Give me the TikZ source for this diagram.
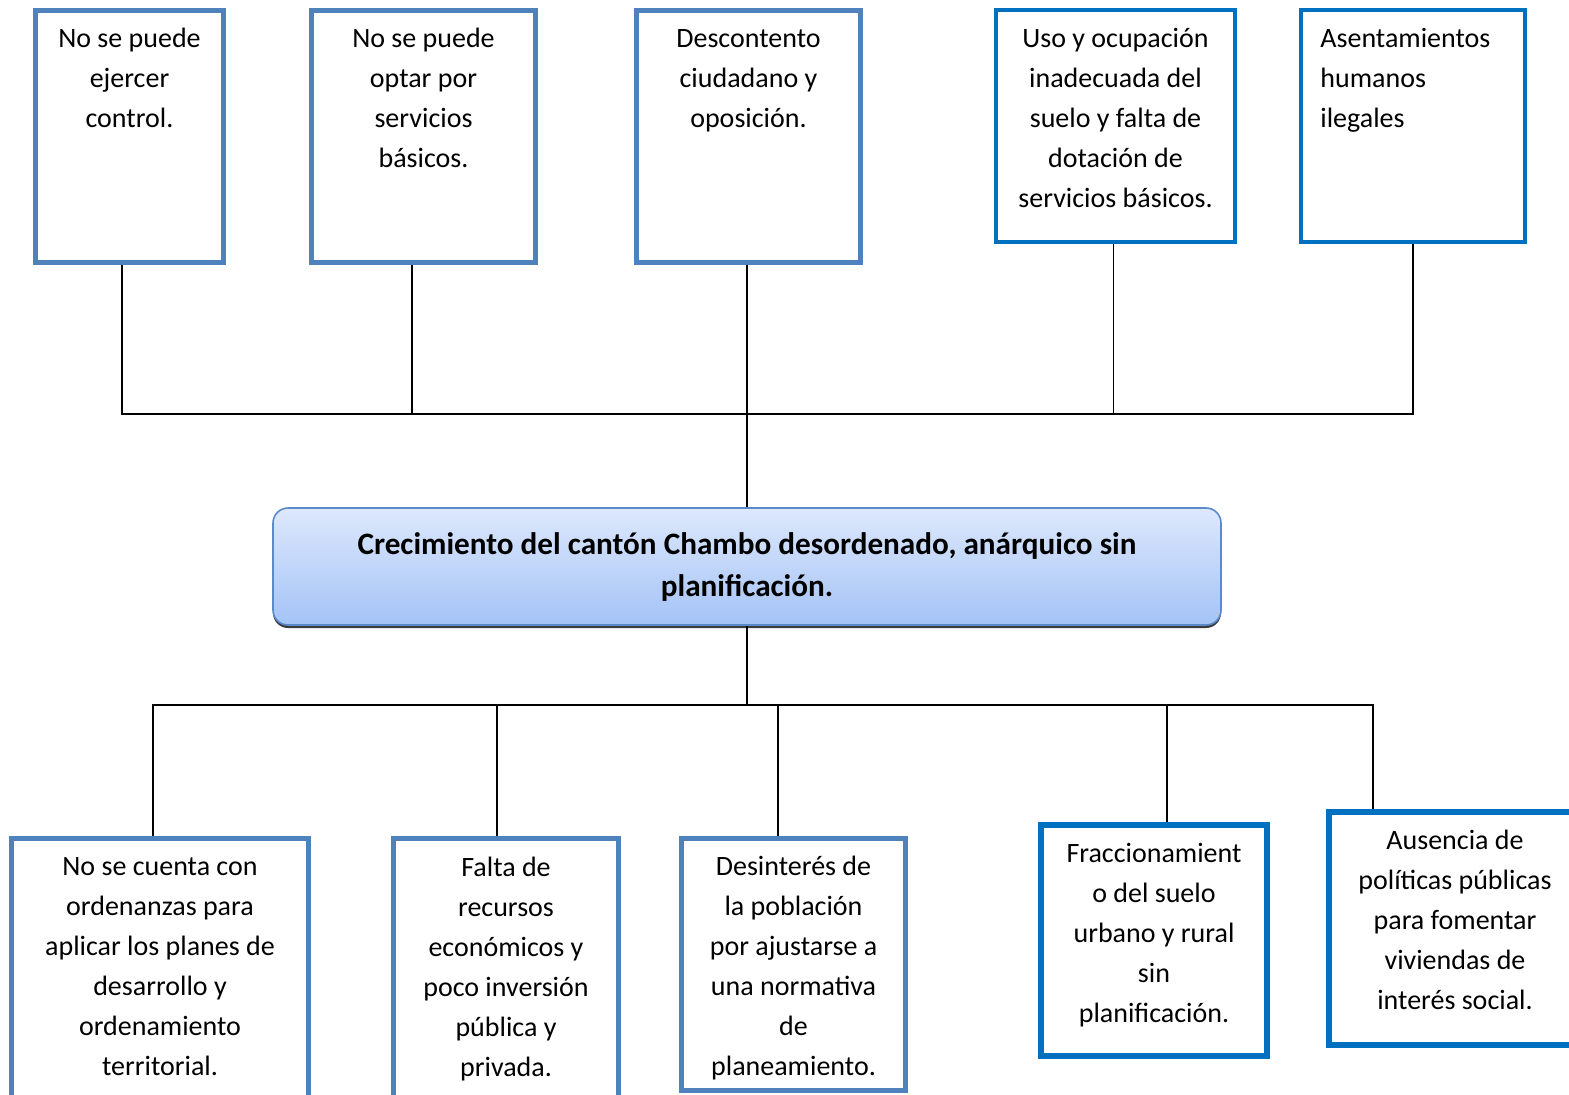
\documentclass[tikz,border=0pt]{standalone}
\usepackage{fontspec}
\setmainfont{Carlito}
\usetikzlibrary{positioning,shadows}
\definecolor{boxblue}{HTML}{4F81BD}
\definecolor{brightblue}{HTML}{0070C0}
\definecolor{coretop}{HTML}{DDE8FC}
\definecolor{corebottom}{HTML}{A4C3F6}
\definecolor{coreline}{HTML}{5B8ACB}
\tikzset{
    effect/.style = {
        draw=boxblue,
        shape=rectangle,
        line width=2.5pt,
        fill=white
    },
    effectbright/.style = {
        draw=brightblue,
        shape=rectangle,
        line width=2pt,
        fill=white
    },
    cause/.style = {
        draw=boxblue,
        shape=rectangle,
        line width=2.5pt,
        fill=white
    },
    causebright/.style = {
        draw=brightblue,
        shape=rectangle,
        line width=3pt,
        fill=white
    },
    boxtext/.style = {
        align=center,
        inner sep=0pt,
        font=\fontsize{14pt}{20pt}\selectfont
    },
    core/.style = {
        draw=coreline,
        shape=rectangle,
        rounded corners=7.5pt,
        line width=0.8pt,
        top color=coretop,
        bottom color=corebottom,
        drop shadow={shadow xshift=0pt, shadow yshift=-1.5pt, fill=black!85, opacity=0.9},
        minimum width=474pt,
        minimum height=58.5pt,
        align=center,
        font=\bfseries\fontsize{15.6pt}{21pt}\selectfont
    },
    link/.style = {
        draw,
        line width=0.7pt
    },
}

\begin{document}
\begin{tikzpicture}[x=0.5pt,y=-0.5pt]
            \useasboundingbox (0,0) rectangle (1569,1094);

            \node[effect, minimum width=94pt, minimum height=126pt] (e1) at (129.5,136.5) {};
            \node[effect, minimum width=112pt, minimum height=126pt] (e2) at (423.5,136.5) {};
            \node[effect, minimum width=112pt, minimum height=126pt] (e3) at (748.5,136.5) {};
            \node[effectbright, minimum width=119.5pt, minimum height=116pt] (e4) at (1115.5,126) {};
            \node[effectbright, minimum width=112pt, minimum height=116pt] (e5) at (1413,126) {};

            \node[boxtext, below=10pt of e1.north] (e1t) {No se puede\\ejercer\\control.};
            \node[boxtext, below=10pt of e2.north] (e2t) {No se puede\\optar por\\servicios\\básicos.};
            \node[boxtext, below=10.5pt of e3.north] (e3t) {Descontento\\ciudadano y\\oposición.};
            \node[boxtext, below=10pt of e4.north] (e4t) {Uso y ocupación\\inadecuada del\\suelo y falta de\\dotación de\\servicios básicos.};
            \node[boxtext, align=left, below right=10pt and 10.5pt of e5.north west] (e5t) {Asentamientos\\humanos\\ilegales};

            \node[core] (core) at (747,566.5) {Crecimiento del cantón Chambo desordenado, anárquico sin\\planificación.};

            \node[cause, minimum width=148.5pt, minimum height=138pt] (c1) at (160,976.75) {};
            \node[cause, minimum width=112.5pt, minimum height=138pt] (c2) at (506,976.75) {};
            \node[cause, minimum width=112pt, minimum height=126pt] (c3) at (793.5,964.5) {};
            \node[causebright, minimum width=113pt, minimum height=115.5pt] (c4) at (1154,940.5) {};
            \node[causebright, minimum width=126pt, minimum height=116.5pt] (c5) at (1455,928.5) {};

            \node[boxtext, below=10.5pt of c1.north] (c1t) {No se cuenta con\\ordenanzas para\\aplicar los planes de\\desarrollo y\\ordenamiento\\territorial.};
            \node[boxtext, below=10pt of c2.north] (c2t) {Falta de\\recursos\\económicos y\\poco inversión\\pública y\\privada.};
            \node[boxtext, below=10pt of c3.north] (c3t) {Desinterés de\\la población\\por ajustarse a\\una normativa\\de\\planeamiento.};
            \node[boxtext, below=10.5pt of c4.north] (c4t) {Fraccionamient\\o del suelo\\urbano y rural\\sin\\planificación.};
            \node[boxtext, below=10.5pt of c5.north] (c5t) {Ausencia de\\políticas públicas\\para fomentar\\viviendas de\\interés social.};

            \coordinate (topbus) at (747,414);
            \coordinate (botbus) at (747,705);

            \path[link] ([xshift=-3.75pt]e1.south) |- (topbus);
            \path[link] ([xshift=-5.75pt]e2.south) |- (topbus);
            \path[link] ([xshift=-0.75pt]e3.south) |- (topbus);
            \path[link] ([xshift=-1pt]e4.south) |- (topbus);
            \path[link] (e5.south) |- (topbus);
            \path[link] (topbus) -- (core.north);

            \path[link] (core.south) -- (botbus);
            \path[link] (botbus) -| ([xshift=-3.5pt]c1.north);
            \path[link] (botbus) -| ([xshift=-4.5pt]c2.north);
            \path[link] (botbus) -| ([xshift=-7.75pt]c3.north);
            \path[link] (botbus) -| ([xshift=6.5pt]c4.north);
            \path[link] (botbus) -| ([xshift=-41pt]c5.north);

        \end{tikzpicture}
\end{document}
